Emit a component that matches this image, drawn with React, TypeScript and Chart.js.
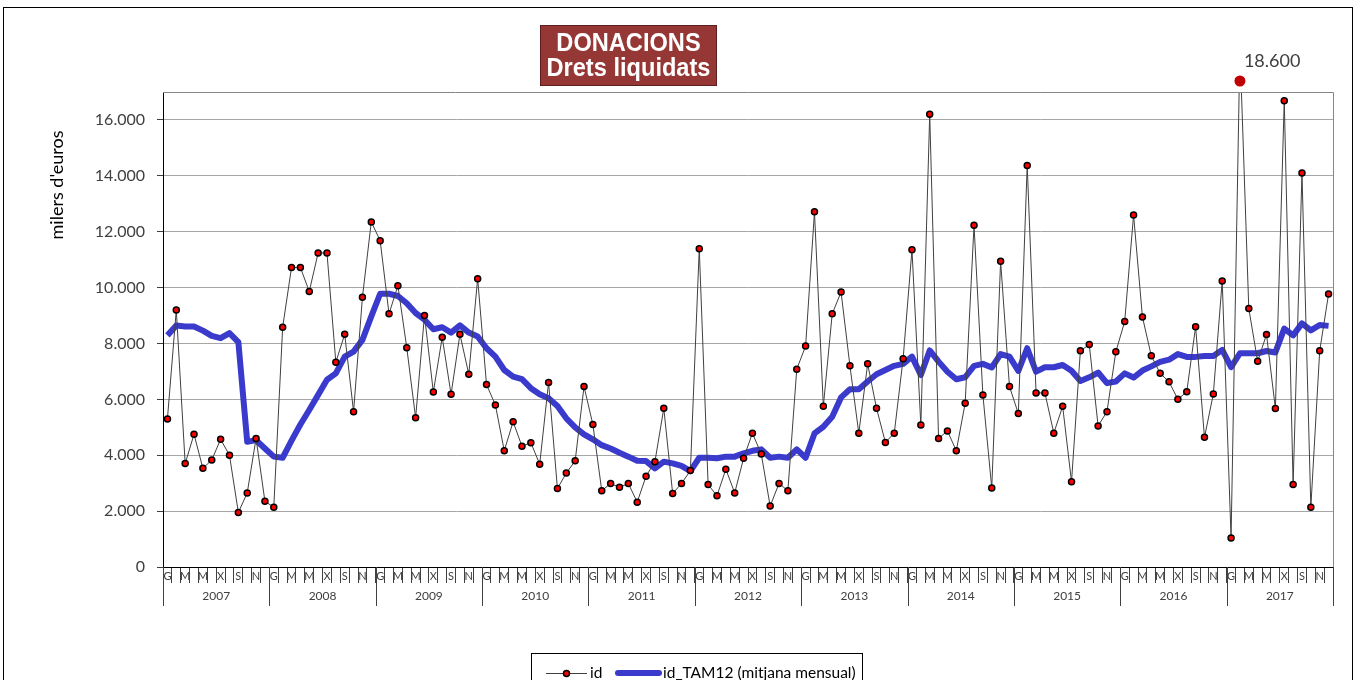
import React, { useEffect, useRef } from 'react';
import { Chart, registerables } from 'chart.js';

Chart.register(...registerables);

const years = ['2007', '2008', '2009', '2010', '2011', '2012', '2013', '2014', '2015', '2016', '2017'];
const monthLetters = ['G', 'F', 'M', 'A', 'M', 'J', 'X', 'A', 'S', 'O', 'N', 'D'];

// id (monthly values, thousands of euros)
const idValues = [
  5300, 9200, 3700, 4750, 3530, 3830, 4570, 4000, 1950, 2650, 4600, 2350,
  2140, 8580, 10720, 10720, 9860, 11240, 11240, 7330, 8330, 5560, 9650, 12350,
  11680, 9060, 10070, 7850, 5340, 9000, 6260, 8220, 6180, 8330, 6900, 10320,
  6530, 5800, 4160, 5200, 4320, 4450, 3680, 6600, 2810, 3360, 3800, 6460,
  5100, 2730, 2990, 2850, 2990, 2320, 3250, 3770, 5680, 2630, 2990, 3450,
  11390, 2950, 2550, 3500, 2650, 3890, 4790, 4040, 2180, 2990, 2730, 7080,
  7910, 12710, 5750, 9060, 9840, 7200, 4790, 7270, 5680, 4460, 4790, 7450,
  11350, 5080, 16200, 4600, 4870, 4160, 5860, 12230, 6160, 2830, 10940, 6460,
  5490, 14370, 6230, 6230, 4790, 5750, 3050, 7740, 7960, 5050, 5560, 7700,
  8790, 12600, 8950, 7560, 6930, 6630, 6000, 6270, 8600, 4640, 6190, 10240,
  1040, 18600, 9250, 7360, 8320, 5670, 16690, 2950, 14100, 2140, 7740, 9770,
];

// id_TAM12 (12-month moving average)
const tamValues = [
  8290, 8640, 8610, 8610, 8460, 8270, 8190, 8370, 8050, 4480, 4540, 4240,
  3950, 3910, 4520, 5100, 5620, 6160, 6700, 6930, 7530, 7710, 8130, 8970,
  9780, 9780, 9700, 9440, 9090, 8850, 8510, 8580, 8390, 8650, 8390, 8250,
  7830, 7530, 7050, 6810, 6720, 6400, 6180, 6040, 5760, 5320, 5000, 4750,
  4570, 4360, 4240, 4090, 3950, 3800, 3790, 3530, 3770, 3710, 3620, 3430,
  3910, 3910, 3890, 3950, 3950, 4070, 4160, 4210, 3910, 3950, 3910, 4210,
  3910, 4780, 5020, 5380, 6070, 6360, 6360, 6640, 6900, 7050, 7200, 7270,
  7530, 6870, 7750, 7350, 6990, 6720, 6790, 7200, 7270, 7140, 7620, 7530,
  7020, 7830, 6990, 7150, 7150, 7230, 7020, 6660, 6790, 6960, 6580, 6640,
  6930, 6780, 7030, 7180, 7340, 7420, 7620, 7520, 7520, 7550, 7550, 7770,
  7150, 7650, 7650, 7650, 7730, 7680, 8530, 8290, 8720, 8470, 8660, 8630,
];

const Y_MIN = 0;
const Y_MAX = 17000;
const yTickValues = [0, 2000, 4000, 6000, 8000, 10000, 12000, 14000, 16000];

const titleLines = ['DONACIONS', 'Drets liquidats'];
const yAxisTitle = "milers d'euros";
const seriesNames = ['id', 'id_TAM12 (mitjana mensual)'];

const labels = years.flatMap((y) => monthLetters.map((m) => `${m} ${y}`));

const fmt = (n: number) => String(Math.round(n)).replace(/\B(?=(\d{3})+(?!\d))/g, '.');

const FONT = 'Lato, "Open Sans", sans-serif';
const TITLE_FONT = '"Liberation Sans", Arial, sans-serif';
const ID_LINE = '#404040';
const ID_POINT = '#FF0000';
const TAM_COLOR = '#3A3ACC';

const decorPlugin = {
  id: 'decor',
  afterDatasetsDraw(chart: any) {
    const { ctx, chartArea, scales } = chart;
    const xs = scales.x;
    const ys = scales.y;
    idValues.forEach((v, i) => {
      if (v > ys.max) {
        const px = xs.getPixelForValue(i);
        const py = chartArea.top - 11;
        ctx.save();
        ctx.beginPath();
        ctx.arc(px, py, 5.5, 0, Math.PI * 2);
        ctx.fillStyle = '#C00000';
        ctx.fill();
        ctx.font = `18px ${FONT}`;
        ctx.fillStyle = '#404040';
        ctx.textAlign = 'left';
        ctx.textBaseline = 'alphabetic';
        ctx.fillText(fmt(v), px + 4, chartArea.top - 25);
        ctx.restore();
      }
    });
  },
  afterDraw(chart: any) {
    const { ctx, chartArea, scales } = chart;
    const xs = scales.x;
    const { left, right, top, bottom } = chartArea;
    ctx.save();

    // plot area top/right border
    ctx.strokeStyle = '#868686';
    ctx.lineWidth = 1;
    ctx.beginPath();
    ctx.moveTo(left, Math.round(top) + 0.5);
    ctx.lineTo(Math.round(right) + 0.5, Math.round(top) + 0.5);
    ctx.lineTo(Math.round(right) + 0.5, bottom);
    ctx.stroke();

    // year separators and labels
    const step = xs.getPixelForValue(1) - xs.getPixelForValue(0);
    ctx.strokeStyle = '#404040';
    ctx.beginPath();
    for (let k = 0; k <= years.length; k++) {
      const px = k < years.length ? xs.getPixelForValue(k * 12) - step / 2 : xs.getPixelForValue(labels.length - 1) + step / 2;
      const rx = Math.round(px) + 0.5;
      ctx.moveTo(rx, bottom);
      ctx.lineTo(rx, bottom + 39);
    }
    ctx.stroke();
    ctx.font = `12px ${FONT}`;
    ctx.fillStyle = '#404040';
    ctx.textAlign = 'center';
    ctx.textBaseline = 'middle';
    years.forEach((y, k) => {
      const cx = (xs.getPixelForValue(k * 12) + xs.getPixelForValue(k * 12 + 11)) / 2;
      ctx.fillText(y, cx, bottom + 29);
    });

    // y-axis title
    ctx.save();
    ctx.translate(57, 185);
    ctx.rotate(-Math.PI / 2);
    ctx.font = `18px ${FONT}`;
    ctx.fillStyle = '#000';
    ctx.textAlign = 'center';
    ctx.textBaseline = 'middle';
    ctx.fillText(yAxisTitle, 0, 0);
    ctx.restore();

    // title box
    ctx.fillStyle = '#953735';
    ctx.fillRect(540, 25, 177, 61);
    ctx.strokeStyle = '#5a1f1e';
    ctx.lineWidth = 1;
    ctx.strokeRect(540.5, 25.5, 176, 60);
    ctx.fillStyle = '#FFFFFF';
    ctx.font = `bold 26px ${TITLE_FONT}`;
    ctx.textAlign = 'center';
    ctx.textBaseline = 'middle';
    const w2 = ctx.measureText(titleLines[1]).width;
    const sx = 164 / w2;
    ctx.save();
    ctx.translate(628.5, 0);
    ctx.scale(sx, 1);
    ctx.fillText(titleLines[0], 0, 44);
    ctx.fillText(titleLines[1], 0, 69);
    ctx.restore();

    // legend
    const ly = 673;
    ctx.strokeStyle = '#000';
    ctx.lineWidth = 1;
    ctx.strokeRect(531.5, 653.5, 331, 60);
    ctx.strokeStyle = ID_LINE;
    ctx.lineWidth = 1;
    ctx.beginPath();
    ctx.moveTo(546, ly + 0.5);
    ctx.lineTo(587, ly + 0.5);
    ctx.stroke();
    ctx.beginPath();
    ctx.arc(566.5, ly + 0.5, 3, 0, Math.PI * 2);
    ctx.fillStyle = ID_POINT;
    ctx.fill();
    ctx.lineWidth = 1.5;
    ctx.strokeStyle = '#000';
    ctx.stroke();
    ctx.font = `15.5px ${FONT}`;
    ctx.fillStyle = '#000';
    ctx.textAlign = 'left';
    ctx.textBaseline = 'middle';
    ctx.fillText(seriesNames[0], 590, ly);
    ctx.strokeStyle = TAM_COLOR;
    ctx.lineWidth = 6;
    ctx.lineCap = 'round';
    ctx.beginPath();
    ctx.moveTo(618, ly);
    ctx.lineTo(659, ly);
    ctx.stroke();
    ctx.lineCap = 'butt';
    ctx.fillText(seriesNames[1], 663, ly);

    // outer border
    ctx.strokeStyle = '#000';
    ctx.lineWidth = 1;
    ctx.strokeRect(3.5, 7.5, 1349, 720);

    ctx.restore();
  },
};

export default function App() {
  const ref = useRef<HTMLCanvasElement | null>(null);

  useEffect(() => {
    if (!ref.current) return;
    const chart = new Chart(ref.current, {
      type: 'line',
      data: {
        labels,
        datasets: [
          {
            label: seriesNames[0],
            data: idValues,
            borderColor: ID_LINE,
            borderWidth: 1,
            pointBackgroundColor: ID_POINT,
            pointBorderColor: '#000',
            pointBorderWidth: 1.5,
            pointRadius: (c: any) => (c.raw > Y_MAX ? 0 : 3),
            tension: 0,
            order: 1,
          },
          {
            label: seriesNames[1],
            data: tamValues,
            borderColor: TAM_COLOR,
            borderWidth: 6,
            pointRadius: 0,
            tension: 0,
            borderJoinStyle: 'round',
            order: 2,
          },
        ],
      },
      options: {
        animation: false,
        responsive: false,
        devicePixelRatio: 1,
        layout: { padding: { top: 92, right: 26, left: 0, bottom: 0 } },
        plugins: {
          legend: { display: false },
          title: { display: false },
          tooltip: { enabled: false },
        },
        scales: {
          x: {
            type: 'category',
            offset: true,
            grid: {
              display: true,
              drawOnChartArea: false,
              drawTicks: true,
              tickLength: 16,
              offset: true,
              color: '#404040',
              lineWidth: 1,
            },
            border: { display: true, color: '#000', width: 1 },
            ticks: {
              autoSkip: false,
              maxRotation: 0,
              minRotation: 0,
              padding: -13,
              color: '#404040',
              font: { family: FONT, size: 11 },
              callback: (_v: any, i: number) => (i % 2 === 0 ? monthLetters[i % 12] : ''),
            },
            afterFit: (s: any) => {
              s.height = 113;
            },
          },
          y: {
            min: Y_MIN,
            max: Y_MAX,
            ticks: {
              padding: 12,
              color: '#404040',
              font: { family: FONT, size: 16 },
              callback: (v: any) => fmt(Number(v)),
            },
            afterBuildTicks: (s: any) => {
              s.ticks = yTickValues.map((v) => ({ value: v }));
            },
            grid: {
              color: '#A6A6A6',
              lineWidth: 1,
              tickLength: 6,
              tickColor: '#404040',
            },
            border: { display: true, color: '#000', width: 1 },
            afterFit: (s: any) => {
              s.width = 163;
            },
          },
        },
      },
      plugins: [decorPlugin],
    } as any);
    return () => chart.destroy();
  }, []);

  return (
    <div style={{ position: 'fixed', left: 0, top: 0, width: 1359, height: 680, background: '#fff' }}>
      <canvas ref={ref} width={1359} height={680} style={{ width: 1359, height: 680, display: 'block' }} />
    </div>
  );
}
